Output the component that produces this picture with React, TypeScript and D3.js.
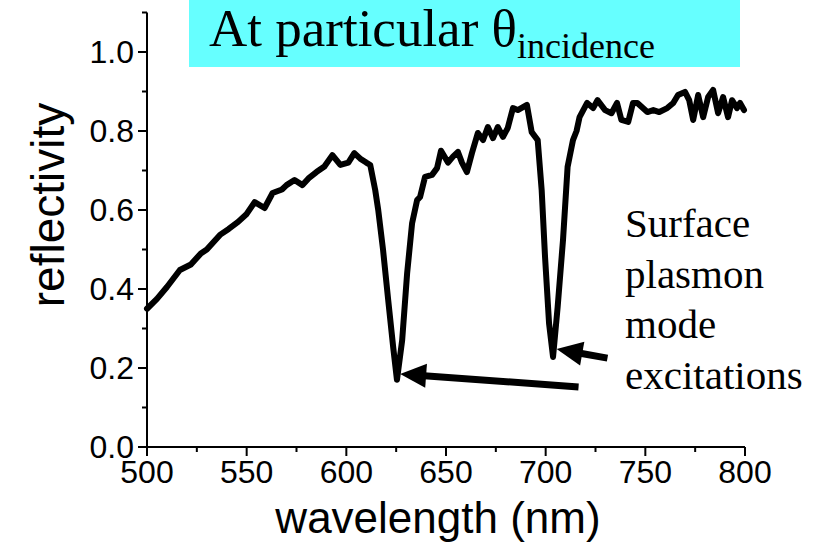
import React from "react";
import * as d3 from "d3";

const wavelength = [500, 505, 510, 516.5, 522, 527, 530, 536.6, 541, 545.7, 550, 554, 559, 563, 567.7, 570, 574, 578, 581, 585, 589, 593, 597, 601, 604, 607, 610, 612, 614.5, 616, 618.4, 621, 623.5, 625.4, 628, 630.5, 633, 635.5, 637, 639.5, 643, 645.5, 647.5, 651, 653.5, 656, 658, 660.5, 663, 666, 668.6, 671, 673.6, 676, 678.6, 681, 683.6, 686, 690.6, 693, 696, 698, 699.7, 701.7, 703.7, 706, 708.7, 711, 713.7, 715.5, 717, 720.8, 723.8, 726, 729.8, 733, 735.8, 738, 741.4, 743.8, 746, 751, 754, 757, 761, 764, 766.4, 769.9, 772, 774, 776.5, 779, 781.5, 784, 786.5, 789, 791.5, 793.5, 796, 797.5, 799.5];
const reflectivity = [0.35, 0.375, 0.405, 0.448, 0.462, 0.49, 0.5, 0.537, 0.552, 0.57, 0.59, 0.62, 0.605, 0.643, 0.652, 0.663, 0.676, 0.663, 0.68, 0.696, 0.71, 0.739, 0.714, 0.72, 0.744, 0.73, 0.72, 0.714, 0.65, 0.6, 0.5, 0.372, 0.253, 0.17, 0.27, 0.44, 0.567, 0.625, 0.633, 0.684, 0.689, 0.706, 0.75, 0.72, 0.735, 0.747, 0.72, 0.696, 0.744, 0.795, 0.777, 0.81, 0.782, 0.81, 0.785, 0.808, 0.858, 0.853, 0.866, 0.797, 0.777, 0.65, 0.48, 0.313, 0.228, 0.354, 0.524, 0.709, 0.777, 0.8, 0.835, 0.871, 0.858, 0.878, 0.853, 0.845, 0.871, 0.828, 0.823, 0.871, 0.871, 0.848, 0.853, 0.848, 0.858, 0.871, 0.891, 0.899, 0.878, 0.828, 0.891, 0.835, 0.886, 0.904, 0.845, 0.886, 0.835, 0.878, 0.858, 0.871, 0.853];

const xMajorTicks = [500, 550, 600, 650, 700, 750, 800];
const xMinorTicks = [525, 575, 625, 675, 725, 775];
const yMajorTicks = [0, 0.2, 0.4, 0.6, 0.8, 1.0];
const yMinorTicks = [0.1, 0.3, 0.5, 0.7, 0.9, 1.1];

const annotationLines = ["Surface", "plasmon", "mode", "excitations"];
// arrows: [tailWavelength, tailReflectivity, tipWavelength, tipReflectivity]
const arrows = [
  [716.5, 0.152, 627, 0.185],
  [731, 0.225, 705.5, 0.248],
];

export default function App() {
  const W = 823, H = 550;
  const x = d3.scaleLinear().domain([500, 800]).range([147, 745]);
  const y = d3.scaleLinear().domain([0, 1.1]).range([447, 12.5]);
  const data = wavelength.map((w, i) => [w, reflectivity[i]] as [number, number]);
  const line = d3.line<[number, number]>().x(d => x(d[0])).y(d => y(d[1]));
  const sans = "'Liberation Sans', Arial, sans-serif";
  const serif = "'Liberation Serif', 'Times New Roman', serif";

  const arrowEls = arrows.map((a, i) => {
    const x1 = x(a[0]), y1 = y(a[1]), x2 = x(a[2]), y2 = y(a[3]);
    const ang = Math.atan2(y2 - y1, x2 - x1);
    const hl = 26, hw = 12;
    const bx = x2 - hl * Math.cos(ang), by = y2 - hl * Math.sin(ang);
    const px = -Math.sin(ang), py = Math.cos(ang);
    const pts = `${x2},${y2} ${bx + px * hw},${by + py * hw} ${bx - px * hw},${by - py * hw}`;
    return (
      <g key={i}>
        <line x1={x1} y1={y1} x2={bx + 2 * Math.cos(ang)} y2={by + 2 * Math.sin(ang)} stroke="#000" strokeWidth={7} />
        <polygon points={pts} fill="#000" />
      </g>
    );
  });

  return (
    <svg width={W} height={H} style={{ position: "absolute", left: 0, top: 0, background: "#fff" }}>
      <rect x={189} y={0} width={551} height={67} fill="#66ffff" />
      <text x={209} y={46} fontFamily={serif} fontSize={53} fill="#000">
        At particular θ
        <tspan fontSize={36} dy={12}>incidence</tspan>
      </text>

      {/* axes */}
      <line x1={x(500)} y1={y(0)} x2={x(800)} y2={y(0)} stroke="#000" strokeWidth={2} />
      <line x1={x(500)} y1={y(0)} x2={x(500)} y2={y(1.1)} stroke="#000" strokeWidth={2} />
      {xMajorTicks.map(t => (
        <g key={"xm" + t}>
          <line x1={x(t)} x2={x(t)} y1={y(0)} y2={y(0) + 9} stroke="#000" strokeWidth={2} />
          <text x={x(t)} y={y(0) + 36} textAnchor="middle" fontFamily={sans} fontSize={32}>{t}</text>
        </g>
      ))}
      {xMinorTicks.map(t => (
        <line key={"xn" + t} x1={x(t)} x2={x(t)} y1={y(0)} y2={y(0) + 5} stroke="#000" strokeWidth={2} />
      ))}
      {yMajorTicks.map(t => (
        <g key={"ym" + t}>
          <line x1={x(500) - 9} x2={x(500)} y1={y(t)} y2={y(t)} stroke="#000" strokeWidth={2} />
          <text x={x(500) - 13} y={y(t) + 11} textAnchor="end" fontFamily={sans} fontSize={32}>{t.toFixed(1)}</text>
        </g>
      ))}
      {yMinorTicks.map(t => (
        <line key={"yn" + t} x1={x(500) - 5} x2={x(500)} y1={y(t)} y2={y(t)} stroke="#000" strokeWidth={2} />
      ))}
      <text x={438} y={533} textAnchor="middle" fontFamily={sans} fontSize={44}>wavelength (nm)</text>
      <text transform="translate(64,205) rotate(-90)" textAnchor="middle" fontFamily={sans} fontSize={46}>reflectivity</text>

      <path d={line(data) || ""} fill="none" stroke="#000" strokeWidth={6} strokeLinejoin="round" strokeLinecap="round" />

      {arrowEls}

      {annotationLines.map((s, i) => (
        <text key={s} x={625} y={237 + i * 50.5} fontFamily={serif} fontSize={41} fill="#000">{s}</text>
      ))}
    </svg>
  );
}
